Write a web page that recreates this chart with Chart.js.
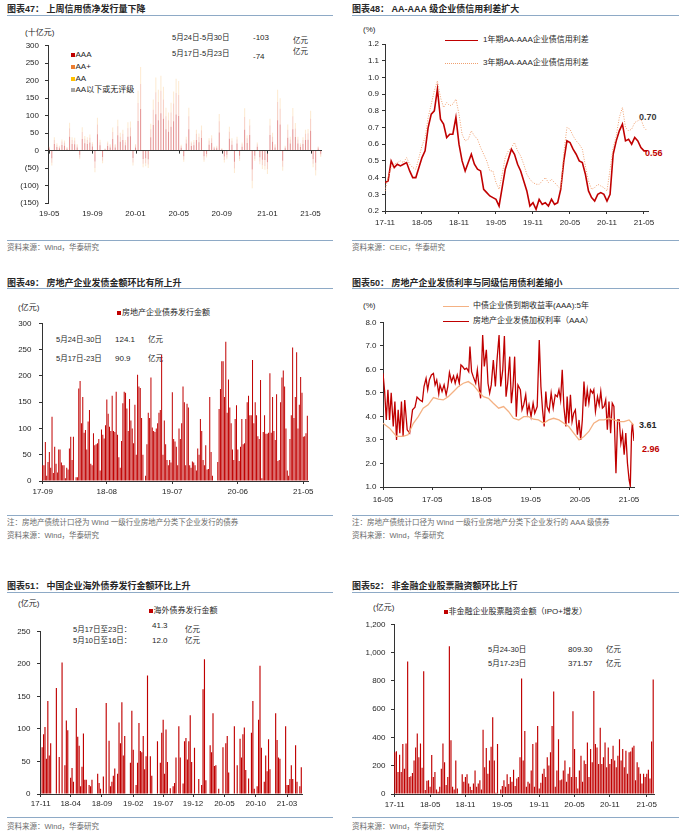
<!DOCTYPE html>
<html>
<head>
<meta charset="utf-8">
<script src="https://cdn.jsdelivr.net/npm/chart.js@4.4.1/dist/chart.umd.min.js"></script>
<style>
  body { margin: 0; background: #fff; }
  #page { position: relative; width: 692px; height: 833px; overflow: hidden;
    font-family: "Liberation Sans", Arial, "Noto Sans CJK SC", sans-serif; color: #262626; }
  .t { position: absolute; white-space: nowrap; line-height: 1; transform: translateY(-50%); }
  .rule { position: absolute; height: 0; border-top: 1.5px solid #8eaac6; }
  .box { position: absolute; }
  .sq { position: absolute; width: 4px; height: 4px; transform: translateY(-50%); }
  .ln { position: absolute; height: 0; }
</style>
</head>
<body>
<div id="page"></div>
<script>
// ---------- data ----------
// 图表47 (十亿元, weekly 19-05 .. 21-05)
const aaa47 = [6,-22,19,10,7,16,14,5,40,19, 18,9,-12,33,21,19,23,12,-31,47, 15,-18,3,13,9,33,9,44,25,30,
  15,40,41,-21,9,85,119,-24,-22,-25, 38,73,104,87,107,91,61,54,68,84, 103,99,8,-16,20,61,13,15,30,24,
  36,-16,-10,17,22,6,7,52,3,-17, -12,34,17,-32,20,-15,11,60,22,45, -54,-15,11,-19,-26,-27,-33,45,25,9,
  87,75,-29,7,37,20,61,39,20,10, 19,30,31,57,-24,-35,6,-9];
const aaPlus47 = [4,-13,11,7,4,10,9,3,24,11, 11,6,-8,20,13,11,14,7,-19,28, 9,-11,2,8,6,20,6,26,15,18,
  9,24,25,-13,6,51,72,-14,-14,-15, 23,44,63,52,64,55,37,33,41,51, 62,60,5,-10,12,37,8,9,18,15,
  22,-10,-6,11,13,4,4,32,2,-10, -8,20,11,-19,12,-9,7,36,13,27, -32,-9,7,-12,-16,-17,-20,27,15,6,
  52,45,-17,4,23,12,37,24,12,7, 11,18,19,34,-14,-21,4,-5];
const aa47 = [2,-8,8,4,3,6,6,2,16,8, 8,4,-5,14,8,8,9,5,-12,19, 7,-7,1,5,4,13,4,18,11,12,
  6,17,17,-9,4,35,48,-10,-9,-10, 16,29,42,35,43,37,25,22,28,34, 41,40,4,-6,8,25,5,6,12,10,
  14,-6,-4,7,9,2,3,21,2,-7, -5,14,7,-13,8,-6,5,25,9,18, -22,-6,5,-8,-11,-11,-14,19,11,4,
  35,30,-12,3,15,8,24,16,8,4, 8,12,12,23,-10,-15,2,-4];
const tickIdx47 = [0, 17, 34, 51, 68, 86, 103];
const tickText47 = ["19-05", "19-09", "20-01", "20-05", "20-09", "21-01", "21-05"];

// 图表48 (%, half-month steps from 17-11)
const spread1Y = [0.37,0.38,0.50,0.46,0.48,0.47,0.48,0.49,0.44,0.40, 0.40,0.46,0.52,0.56,0.70,0.78,0.80,0.93,0.75,0.72,
  0.64,0.66,0.66,0.76,0.60,0.50,0.44,0.49,0.54,0.48, 0.45,0.44,0.33,0.31,0.29,0.28,0.27,0.23,0.34,0.45,
  0.51,0.57,0.54,0.48,0.44,0.38,0.32,0.23,0.25,0.21, 0.27,0.24,0.25,0.23,0.27,0.24,0.25,0.33,0.50,0.62,
  0.61,0.57,0.54,0.50,0.49,0.42,0.32,0.28,0.26,0.30, 0.31,0.30,0.26,0.30,0.54,0.62,0.68,0.72,0.62,0.63,
  0.60,0.64,0.62,0.58,0.56,0.56];
const spread3Y = [0.32,0.40,0.46,0.48,0.49,0.50,0.49,0.52,0.48,0.46, 0.45,0.52,0.59,0.64,0.76,0.84,0.92,0.98,0.88,0.82,
  0.85,0.83,0.84,0.87,0.78,0.66,0.62,0.63,0.68,0.65, 0.63,0.58,0.54,0.50,0.44,0.44,0.37,0.33,0.42,0.52,
  0.56,0.58,0.61,0.56,0.53,0.48,0.42,0.39,0.37,0.36, 0.36,0.38,0.40,0.37,0.39,0.37,0.35,0.33,0.55,0.70,
  0.69,0.65,0.62,0.60,0.57,0.47,0.38,0.33,0.34,0.36, 0.35,0.34,0.32,0.45,0.58,0.65,0.76,0.82,0.70,0.68,
  0.69,0.73,0.74,0.75,0.70,0.68];
const tickIdx48 = [0, 12, 24, 36, 48, 60, 72, 84];
const tickText48 = ["17-11", "18-05", "18-11", "19-05", "19-11", "20-05", "20-11", "21-05"];

// 图表49 (亿元, weekly 17-09 .. 21-05)
const issue49 = [30,30,74,10,36,55,25,122,15,65, 33,16,60,60,35,30,30,5,25,22, 62,84,40,84,0,7,7,176,190,110,
  160,92,97,60,113,135,33,30,91,68, 70,72,80,20,98,88,81,106,155,128, 103,95,162,95,93,170,88,45,25,76,
  148,170,168,138,95,156,115,100,72,145, 50,202,180,177,120,50,0,10,70,130, 120,197,102,95,93,100,110,130,135,240,
  50,115,70,40,30,40,35,169,80,75, 65,30,100,80,110,180,150,30,147,140, 30,25,37,35,30,20,62,50,118,95,
  40,30,68,22,23,160,55,10,0,0, 0,36,137,175,228,228,160,265,130,193, 140,110,60,40,118,144,60,38,65,118,
  70,72,118,150,162,125,125,230,110,150, 125,85,80,192,5,93,125,90,90,92, 205,92,160,95,78,165,38,40,150,197,
  210,180,100,20,10,80,125,254,120,160, 245,100,145,198,168,84,85,91,124];
const tickIdx49 = [0, 48, 97, 146, 195];
const tickText49 = ["17-09", "18-08", "19-07", "20-06", "21-05"];

// 图表50 (%, x in months from 16-05)
const redMonths50 = [0.0,0.4,0.8,1.2,1.6,2.0,2.5,2.9,3.3,3.7, 4.1,4.5,4.9,5.3,5.9,6.5,7.2,7.8,8.3,9.0,
  9.6,10.0,10.5,10.9,11.3,11.8,12.3,12.7,13.1,13.6, 13.9,14.4,14.9,15.4,15.8,16.2,16.7,17.2,17.6,18.1,
  18.6,19.0,19.4,19.9,20.4,20.9,21.2,21.6,22.0,22.6, 23.0,23.4,23.8,24.3,24.7,25.2,25.6,26.0,26.4,26.9,
  27.4,27.8,28.3,28.7,29.2,29.6,30.0,30.4,30.9,31.3, 31.7,32.1,32.5,32.9,33.5,33.9,34.3,34.8,35.2,35.6,
  36.1,36.6,37.0,37.6,38.1,38.5,38.9,39.3,39.7,40.0, 40.5,41.0,41.5,42.0,42.5,42.9,43.3,43.7,44.1,44.6,
  44.9,45.3,45.7,46.1,46.5,46.9,47.4,47.8,48.2,48.6, 49.0,49.4,49.8,50.2,50.6,51.1,51.4,51.8,52.3,52.7,
  53.1,53.5,53.9,54.3,54.7,55.1,55.5,55.9,56.3,56.8, 57.2,57.6,58.0,58.4,58.8,59.2,59.6,60.0,60.3,60.6,
  60.8,61.2];
const redRate50 = [5.83,5.06,3.85,5.13,3.85,5.0,3.57,4.63,3.0,4.28, 3.29,4.63,3.15,4.7,3.43,3.29,4.28,4.39,4.82,4.7,
  4.63,5.27,5.62,5.13,5.55,5.76,5.83,5.34,5.55,4.96, 5.34,5.06,5.34,4.92,5.27,5.86,5.48,5.72,5.41,5.76,
  5.41,6.19,6.12,6.0,6.05,5.9,6.97,5.9,5.69,5.41, 5.98,5.27,4.77,7.46,6.12,6.83,5.41,4.99,5.34,6.4,
  5.27,6.4,7.46,5.27,5.98,7.42,4.84,5.41,6.54,4.56, 5.27,6.54,3.99,5.34,5.13,4.28,4.49,4.92,4.14,4.49,
  3.99,4.56,4.14,4.42,7.25,5.27,4.28,3.57,5.06,4.42, 4.21,4.99,4.35,4.92,4.84,5.13,4.7,5.98,4.42,3.57,
  4.84,3.71,4.92,3.78,4.14,4.28,3.22,3.85,3.0,3.85, 5.48,4.42,5.13,4.56,5.13,4.99,5.13,4.21,4.84,4.49,
  5.06,4.35,4.42,4.7,3.43,4.63,3.29,4.56,4.42,1.59, 3.85,3.85,2.86,3.29,2.37,3.29,2.02,1.31,1.03,3.29,
  3.71,2.96];
const aaaMonths50 = [0,1.6,3.3,4.9,6.1,7.4,8.6,9.8,11.0,12.3, 13.5,14.7,15.9,17.2,18.4,19.6,20.8,22.0,23.3,24.5,
  25.7,26.9,28.2,29.4,30.6,31.8,33.1,34.3,35.5,36.7, 37.9,39.2,40.4,41.6,42.9,44.1,45.3,46.5,47.8,49.0,
  50.2,51.4,52.7,53.9,55.1,56.3,57.6,58.8,60.0,61.2];
const aaaYield50 = [3.71,3.5,3.15,3.15,3.22,3.71,3.99,4.35,4.49,4.8, 4.73,4.7,4.84,5.06,5.27,5.41,5.48,5.34,5.06,4.84,
  4.77,4.56,4.35,4.42,4.21,3.92,3.85,3.99,3.99,3.88, 3.85,3.71,3.85,3.92,3.85,3.71,3.57,3.29,3.0,3.15,
  3.36,3.71,3.85,3.85,3.92,3.85,3.78,3.78,3.85,3.61];
const tickIdx50 = [0, 12, 24, 36, 48, 60];
const tickText50 = ["16-05", "17-05", "18-05", "19-05", "20-05", "21-05"];

// 图表51 (亿元, weekly 17-11 .. 21-05)
const overseas51 = [0,72,92,103,54,143,59,78,0,0, 0,163,0,57,0,202,0,44,113,98, 0,25,40,19,0,132,88,74,12,42,
  93,22,22,0,14,12,22,0,0,0, 31,17,8,0,27,0,140,0,82,12, 19,28,39,0,31,110,78,141,59,89,
  0,0,0,48,128,68,0,14,48,109, 66,64,89,38,58,182,0,58,28,0, 0,0,81,0,48,94,114,31,99,49,
  0,9,0,12,17,56,0,104,56,0, 16,81,86,53,81,121,49,0,71,0, 0,23,0,14,161,207,21,0,0,75,
  64,124,43,44,0,8,0,0,72,0, 78,89,33,0,0,0,104,0,44,0, 85,56,92,102,37,0,24,0,94,143,
  8,0,12,114,197,71,0,19,59,35, 84,38,0,0,0,124,83,56,54,0, 0,0,104,14,14,23,44,23,0,75,
  19,0,12,41];
const tickIdx51 = [0, 21, 43, 65, 86, 107, 129, 151, 173];
const tickText51 = ["17-11", "18-04", "18-09", "19-02", "19-07", "19-12", "20-05", "20-10", "21-03"];

// 图表52 (亿元, 17-11 .. 21-05)
const equity52 = [295,302,155,278,155,353,179,357,937,120, 125,148,237,329,427,260,357,186,868,28,
  93,97,51,276,120,155,32,16,51,179, 357,225,63,120,1044,380,51,32,237,39, 0,0,139,86,120,139,74,51,28,74,
  167,51,74,97,32,455,190,325,144,237, 334,543,237,9,353,0,32,56,97,51, 139,70,120,86,172,56,109,120,260,817,
  237,445,51,86,74,167,353,51,364,480, 39,79,144,179,120,260,202,295,480,724, 51,167,387,97,102,167,237,86,144,190,
  120,585,318,120,39,167,271,86,237,213, 364,120,318,225,728,353,329,213,469,213, 260,364,190,329,213,248,341,237,190,271,
  387,237,318,190,306,144,295,300,329,341, 97,225,190,144,74,144,120,144,172,110, 372,809];
const tickIdx52 = [0, 22, 44, 67, 90, 112, 134, 157];
const tickText52 = ["17-11", "18-05", "18-11", "19-05", "19-11", "20-05", "20-11", "21-05"];

// ---------- page helpers ----------
const page = document.getElementById("page");
const RED = "#c00000";

function text(str, x, y, size, opts) {
  opts = opts || {};
  const s = document.createElement("span");
  s.className = "t";
  s.textContent = str;
  s.style.left = x + "px";
  s.style.top = y + "px";
  s.style.fontSize = size + "px";
  if (opts.bold) s.style.fontWeight = "bold";
  if (opts.color) s.style.color = opts.color;
  page.appendChild(s);
}
function rule(x1, x2, y) {
  const d = document.createElement("div");
  d.className = "rule";
  d.style.left = x1 + "px";
  d.style.top = y + "px";
  d.style.width = x2 - x1 + "px";
  page.appendChild(d);
}
function square(x, y, color) {
  const d = document.createElement("div");
  d.className = "sq";
  d.style.left = x + "px";
  d.style.top = y + "px";
  d.style.background = color;
  page.appendChild(d);
}
function lineKey(x1, x2, y, css) {
  const d = document.createElement("div");
  d.className = "ln";
  d.style.left = x1 + "px";
  d.style.top = y + "px";
  d.style.width = x2 - x1 + "px";
  d.style.borderTop = css;
  page.appendChild(d);
}

// chart box: L/T/R/B = chart area edges on the page
const YW = 40, PT = 8, PR = 16, XH = 22;
function makeBox(id, L, T, R, B) {
  const d = document.createElement("div");
  d.className = "box";
  d.style.left = L - YW + "px";
  d.style.top = T - PT + "px";
  d.style.width = R - L + YW + PR + "px";
  d.style.height = B - T + PT + XH + "px";
  const c = document.createElement("canvas");
  c.id = id;
  d.appendChild(c);
  page.appendChild(d);
  return c;
}

Chart.defaults.font.family = '"Liberation Sans", Arial, "Noto Sans CJK SC", sans-serif';
Chart.defaults.font.size = 8;
Chart.defaults.color = "#262626";
Chart.defaults.animation = false;
Chart.defaults.responsive = true;
Chart.defaults.maintainAspectRatio = false;
Chart.defaults.plugins.legend.display = false;
Chart.defaults.plugins.tooltip.enabled = false;
Chart.defaults.layout.padding = { top: PT, right: PR, left: 0, bottom: 0 };

function yAxis(min, max, step, pad, fmt, grid) {
  return {
    min: min,
    max: max,
    afterFit: (s) => { s.width = YW; },
    ticks: { stepSize: step, padding: pad, callback: fmt },
    grid: Object.assign({ drawOnChartArea: false, tickLength: 3, color: "#333", tickColor: "#333" }, grid || {}),
    border: { display: true, color: "#333", width: 1 },
  };
}
function xAxis(type, tickIdx, tickText, pad, extra) {
  return Object.assign({
    type: type,
    afterFit: (s) => { s.height = XH; },
    afterBuildTicks: (s) => { s.ticks = tickIdx.map((v) => ({ value: v })); },
    ticks: { autoSkip: false, maxRotation: 0, padding: pad, callback: (v, i) => tickText[i] },
    grid: { drawOnChartArea: false, offset: false, tickLength: 3, color: "#333" },
    border: { display: true, color: "#333", width: 1 },
  }, extra || {});
}
const oneDec = (v) => v.toFixed(1);

// ---------- frame texts ----------
const titleY = [9, 283, 586], ruleTop = [15, 288, 592], ruleBottom = [240, 515, 817];
for (let r = 0; r < 3; r++) {
  rule(7, 333, ruleTop[r]);
  rule(352, 679, ruleTop[r]);
  rule(7, 333, ruleBottom[r]);
  rule(352, 679, ruleBottom[r]);
}
text("图表47：  上周信用债净发行量下降", 7, titleY[0], 9, { bold: true });
text("图表48：  AA-AAA 级企业债信用利差扩大", 352, titleY[0], 9, { bold: true });
text("图表49：  房地产企业发债金额环比有所上升", 7, titleY[1], 9, { bold: true });
text("图表50：  房地产企业发债利率与同级信用债利差缩小", 352, titleY[1], 9, { bold: true });
text("图表51：  中国企业海外债券发行金额环比上升", 7, titleY[2], 9, { bold: true });
text("图表52：  非金融企业股票融资额环比上行", 352, titleY[2], 9, { bold: true });

const grey = { color: "#6b6b6b" };
text("资料来源：Wind，华泰研究", 7, 248, 7.5, grey);
text("资料来源：CEIC，华泰研究", 352, 248, 7.5, grey);
text("注：房地产债统计口径为 Wind 一级行业房地产分类下企业发行的债券", 7, 523, 7.5, grey);
text("资料来源：Wind，华泰研究", 7, 536, 7.5, grey);
text("注：房地产债统计口径为 Wind 一级行业房地产分类下企业发行的 AAA 级债券", 352, 523, 7.5, grey);
text("资料来源：Wind，华泰研究", 352, 536, 7.5, grey);
text("资料来源：Wind，华泰研究", 7, 827, 7.5, grey);
text("资料来源：Wind，华泰研究", 352, 827, 7.5, grey);

// ---------- 图表47 ----------
text("(十亿元)", 25, 33, 8);
square(71, 55, RED); text("AAA", 75.5, 55, 8);
square(71, 67, "#ed7d31"); text("AA+", 75.5, 67, 8);
square(71, 79, "#ffc000"); text("AA", 75.5, 79, 8);
square(71, 90, "#a6a6a6"); text("AA以下或无评级", 75.5, 90, 8);
text("5月24日-5月30日", 172, 38, 7.5); text("-103", 253, 38, 8); text("亿元", 293, 41, 7.5);
text("5月17日-5月23日", 172, 54, 7.5); text("-74", 253, 57, 8); text("亿元", 293, 52, 7.5);

const zeroTicks = {
  id: "zeroTicks",
  afterDraw(chart) {
    const x = chart.scales.x;
    const y0 = chart.scales.y.getPixelForValue(0);
    const ctx = chart.ctx;
    ctx.save();
    ctx.strokeStyle = "#333";
    ctx.lineWidth = 1;
    x.ticks.forEach((t, i) => {
      const px = Math.round(x.getPixelForTick(i)) + 0.5;
      ctx.beginPath();
      ctx.moveTo(px, y0);
      ctx.lineTo(px, y0 + 3);
      ctx.stroke();
    });
    ctx.restore();
  },
};

new Chart(makeBox("c47", 48, 43, 322, 203), {
  type: "bar",
  data: {
    labels: aaa47.map((v, i) => i),
    datasets: [
      { label: "AAA", data: aaa47, backgroundColor: "rgba(192,0,0,0.42)" },
      { label: "AA+", data: aaPlus47, backgroundColor: "rgba(232,120,90,0.35)" },
      { label: "AA", data: aa47, backgroundColor: "rgba(250,190,110,0.3)" },
    ],
  },
  options: {
    datasets: { bar: { barPercentage: 0.42, categoryPercentage: 1 } },
    scales: {
      x: xAxis("category", tickIdx47, tickText47, 6, {
        stacked: true,
        grid: { display: false, drawTicks: false },
        border: { display: false },
      }),
      y: Object.assign(
        yAxis(-150, 300, 50, 6, (v) => (v < 0 ? "(" + -v + ")" : v), {
          drawOnChartArea: true,
          color: (c) => (c.tick && c.tick.value === 0 ? "#333" : "rgba(0,0,0,0)"),
        }),
        { stacked: true }
      ),
    },
  },
  plugins: [zeroTicks],
});

// ---------- 图表48 ----------
text("(%)", 363, 30, 8);
lineKey(445, 478, 40, "1.6px solid " + RED);
text("1年期AA-AAA企业债信用利差", 483, 40, 8);
lineKey(445, 478, 63, "1px dotted #f0a070");
text("3年期AA-AAA企业债信用利差", 483, 63, 8);
text("0.70", 639, 117, 9, { bold: true, color: "#3a3a3a" });
text("0.56", 645, 153, 9, { bold: true, color: RED });

new Chart(makeBox("c48", 385, 44, 648, 211), {
  type: "line",
  data: {
    datasets: [
      {
        data: spread3Y.map((v, i) => ({ x: i, y: v })),
        borderColor: "#f0a070",
        borderWidth: 1,
        borderDash: [1, 1.5],
        pointRadius: 0,
      },
      {
        data: spread1Y.map((v, i) => ({ x: i, y: v })),
        borderColor: RED,
        borderWidth: 1.6,
        pointRadius: 0,
      },
    ],
  },
  options: {
    scales: {
      x: xAxis("linear", tickIdx48, tickText48, 3.5, { min: 0, max: 85.3 }),
      y: yAxis(0.2, 1.2, 0.1, 3, oneDec),
    },
  },
});

// ---------- 图表49 ----------
text("(亿元)", 18, 308, 8);
square(117, 313, RED); text("房地产企业债券发行金额", 122, 313, 8);
text("5月24日-30日", 56, 340, 7.5); text("124.1", 115, 340, 8); text("亿元", 148, 340, 7.5);
text("5月17日-23日", 56, 359, 7.5); text("90.9", 115, 359, 8); text("亿元", 148, 359, 7.5);

new Chart(makeBox("c49", 42, 319, 308, 481), {
  type: "bar",
  data: {
    labels: issue49.map((v, i) => i),
    datasets: [{ data: issue49, backgroundColor: RED }],
  },
  options: {
    datasets: { bar: { barPercentage: 0.75, categoryPercentage: 1 } },
    scales: {
      x: xAxis("category", tickIdx49, tickText49, 3),
      y: yAxis(0, 300, 50, 7.5),
    },
  },
});

// ---------- 图表50 ----------
text("(%)", 363, 306, 8);
lineKey(443, 469, 306, "1.6px solid #f4b183");
text("中债企业债到期收益率(AAA):5年", 473, 306, 8);
lineKey(443, 469, 321, "1.6px solid " + RED);
text("房地产企业发债加权利率（AAA）", 473, 321, 8);
text("3.61", 639, 425, 9, { bold: true, color: "#262626" });
text("2.96", 642, 449, 9, { bold: true, color: RED });

new Chart(makeBox("c50", 383, 322, 634, 487), {
  type: "line",
  data: {
    datasets: [
      {
        data: aaaMonths50.map((m, i) => ({ x: m, y: aaaYield50[i] })),
        borderColor: "#f4b183",
        borderWidth: 1.3,
        pointRadius: 0,
      },
      {
        data: redMonths50.map((m, i) => ({ x: m, y: redRate50[i] })),
        borderColor: RED,
        borderWidth: 1.3,
        pointRadius: 0,
      },
    ],
  },
  options: {
    scales: {
      x: xAxis("linear", tickIdx50, tickText50, 4.5, { min: 0, max: 61.2 }),
      y: yAxis(1, 8, 1, 3.5, oneDec),
    },
  },
});

// ---------- 图表51 ----------
text("(亿元)", 18, 604, 8);
square(149, 611, RED); text("海外债券发行金额", 153.5, 611, 8);
text("5月17日至23日：", 73, 630, 7.5); text("41.3", 152, 626, 8); text("亿元", 185, 630, 7.5);
text("5月10日至16日：", 73, 641, 7.5); text("12.0", 152, 641, 8); text("亿元", 185, 641, 7.5);

new Chart(makeBox("c51", 40, 628, 302, 794), {
  type: "bar",
  data: {
    labels: overseas51.map((v, i) => i),
    datasets: [{ data: overseas51, backgroundColor: RED }],
  },
  options: {
    datasets: { bar: { barPercentage: 0.8, categoryPercentage: 1 } },
    scales: {
      x: xAxis("category", tickIdx51, tickText51, 1.5),
      y: yAxis(0, 250, 50, 6.5),
    },
  },
});

// ---------- 图表52 ----------
text("(亿元)", 373, 608, 8);
square(444, 612, RED); text("非金融企业股票融资金额（IPO+增发）", 448.5, 612, 8);
text("5月24-30日", 488, 650, 7.5); text("809.30", 568, 650, 8); text("亿元", 606, 650, 7.5);
text("5月17-23日", 488, 664, 7.5); text("371.57", 568, 664, 8); text("亿元", 606, 664, 7.5);

new Chart(makeBox("c52", 394, 622, 654, 794), {
  type: "bar",
  data: {
    labels: equity52.map((v, i) => i),
    datasets: [{ data: equity52, backgroundColor: RED }],
  },
  options: {
    datasets: { bar: { barPercentage: 0.72, categoryPercentage: 1 } },
    scales: {
      x: xAxis("category", tickIdx52, tickText52, 3),
      y: yAxis(0, 1200, 200, 5.5, (v) => v.toLocaleString("en-US")),
    },
  },
});
</script>
</body>
</html>
